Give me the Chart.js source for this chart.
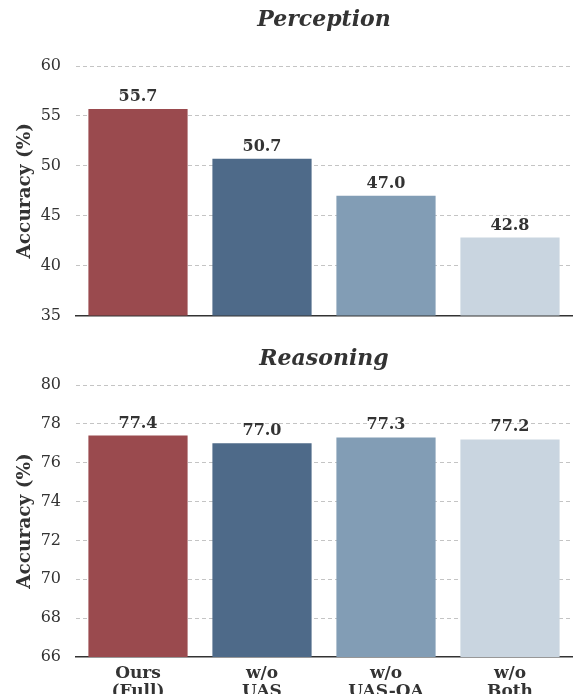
<!DOCTYPE html>
<html>
<head>
<meta charset="utf-8">
<script src="https://cdn.jsdelivr.net/npm/chart.js@4.4.0/dist/chart.umd.min.js"></script>
<style>
  body { margin: 0; background: #fff; }
  .box { position: absolute; left: 0; width: 573px; }
  #top { top: 0; height: 340px; }
  #bottom { top: 340px; height: 354px; }
</style>
</head>
<body>
<div class="box" id="top"><canvas id="chartTop"></canvas></div>
<div class="box" id="bottom"><canvas id="chartBottom"></canvas></div>
<script>
const categories = [["Ours", "(Full)"], ["w/o", "UAS"], ["w/o", "UAS-OA"], ["w/o", "Both"]];
const perception = [55.7, 50.7, 47.0, 42.8];
const reasoning = [77.4, 77.0, 77.3, 77.2];
const perceptionTicks = [35, 40, 45, 50, 55, 60];
const reasoningTicks = [66, 68, 70, 72, 74, 76, 78, 80];
const barColors = ["#9a4a4e", "#4e6a89", "#829db5", "#c9d5e0"];

const FONT = "'DejaVu Serif', serif";
const INK = "#333333";

// titre + valeurs au-dessus des barres
const labelPlugin = {
    id: "labels",
    afterDatasetsDraw(chart, args, opts) {
        const ctx = chart.ctx;
        const area = chart.chartArea;
        ctx.save();
        ctx.fillStyle = INK;
        ctx.textAlign = "center";
        ctx.font = "italic bold 22px " + FONT;
        ctx.textBaseline = "middle";
        ctx.fillText(opts.title, (area.left + area.right) / 2, opts.titleY);
        ctx.font = "bold 16px " + FONT;
        ctx.textBaseline = "alphabetic";
        const meta = chart.getDatasetMeta(0);
        meta.data.forEach(function (bar, i) {
            const v = chart.data.datasets[0].data[i];
            ctx.fillText(v.toFixed(1), bar.x, bar.y - 8);
        });
        ctx.restore();
    }
};

function makeChart(id, values, ticks, title, titleY, showX, xHeight, pad) {
    const ctx = document.getElementById(id).getContext("2d");
    return new Chart(ctx, {
        type: "bar",
        data: {
            labels: categories,
            datasets: [{
                data: values,
                backgroundColor: barColors,
                barPercentage: 0.8,
                categoryPercentage: 1.0
            }]
        },
        options: {
            responsive: true,
            maintainAspectRatio: false,
            animation: false,
            layout: { padding: pad },
            plugins: {
                legend: { display: false },
                tooltip: { enabled: false },
                labels: { title: title, titleY: titleY }
            },
            scales: {
                x: {
                    afterFit: function (axis) { axis.height = xHeight; },
                    grid: { display: false },
                    border: { display: true, color: "#333", width: 1.5, z: -1 },
                    ticks: {
                        display: showX,
                        color: INK,
                        font: { family: FONT, size: 17, weight: "bold", lineHeight: 1.05 },
                        padding: 0,
                        maxRotation: 0
                    }
                },
                y: {
                    min: ticks[0],
                    max: ticks[ticks.length - 1],
                    afterBuildTicks: function (axis) {
                        axis.ticks = ticks.map(function (t) { return { value: t }; });
                    },
                    afterFit: function (axis) { axis.width = 62; },
                    grid: {
                        color: function (c) {
                            return c.tick && c.tick.value === ticks[0] ? "rgba(0,0,0,0)" : "#c4c4c4";
                        },
                        lineWidth: 1,
                        drawTicks: false
                    },
                    border: { display: false, dash: [4, 3] },
                    ticks: {
                        color: INK,
                        font: { family: FONT, size: 16 },
                        padding: 15
                    },
                    title: {
                        display: true,
                        text: "Accuracy (%)",
                        color: INK,
                        font: { family: FONT, size: 18.5, weight: "bold" },
                        padding: 0
                    }
                }
            }
        },
        plugins: [labelPlugin]
    });
}

makeChart("chartTop", perception, perceptionTicks, "Perception", 20,
    false, 0, { top: 66, bottom: 17.7, left: 14, right: 1 });
makeChart("chartBottom", reasoning, reasoningTicks, "Reasoning", 19,
    true, 37, { top: 45, bottom: 0, left: 14, right: 1 });
</script>
</body>
</html>
